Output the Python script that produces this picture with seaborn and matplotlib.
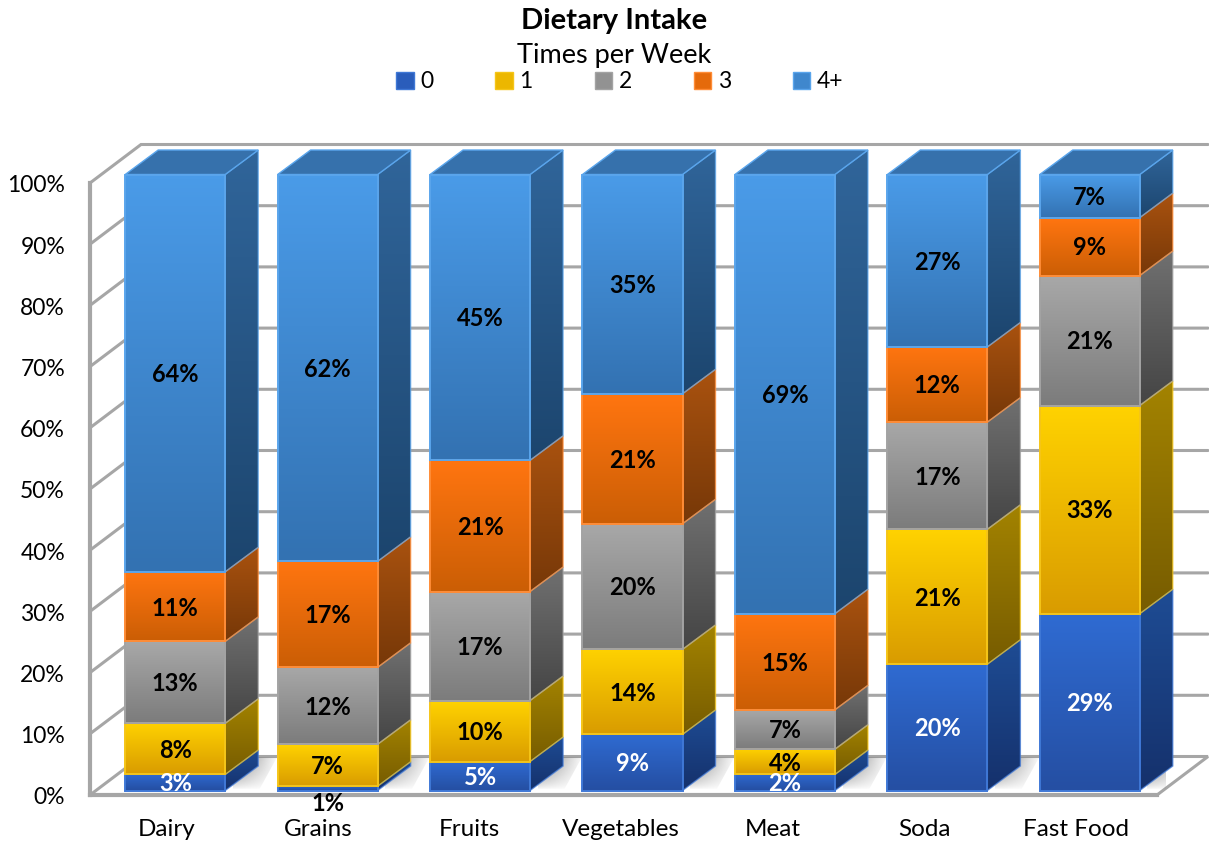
import numpy as np
import matplotlib
matplotlib.use("Agg")
import matplotlib.pyplot as plt
import seaborn as sns
from matplotlib.colors import LinearSegmentedColormap, to_rgb
from matplotlib.patches import Patch, Polygon
from matplotlib.transforms import ScaledTranslation

categories = ["Dairy", "Grains", "Fruits", "Vegetables", "Meat", "Soda", "Fast Food"]
series_names = ["0", "1", "2", "3", "4+"]

# segment heights
zero = [2.6, 0.7, 4.7, 9.1, 2.6, 20.5, 28.7]
one = [8.3, 6.8, 9.9, 13.8, 4.1, 21.9, 33.8]
two = [13.3, 12.5, 17.7, 20.4, 6.4, 17.4, 21.1]
three = [11.3, 17.2, 21.3, 21.1, 15.6, 12.2, 9.4]
four = [64.5, 62.8, 46.4, 35.6, 71.3, 28.0, 7.0]

# printed data labels
zero_lab = [3, 1, 5, 9, 2, 20, 29]
one_lab = [8, 7, 10, 14, 4, 21, 33]
two_lab = [13, 12, 17, 20, 7, 17, 21]
three_lab = [11, 17, 21, 21, 15, 12, 9]
four_lab = [64, 62, 45, 35, 69, 27, 7]

values = [zero, one, two, three, four]
labels = [zero_lab, one_lab, two_lab, three_lab, four_lab]

# front top, front bottom, side top, side bottom, edge
colors = [
    ("#2F6BD2", "#254FA3", "#1E4C94", "#15316C", "#3F78D6"),
    ("#FFD200", "#D99C00", "#A38300", "#775C00", "#F5C518"),
    ("#A8A8A8", "#7C7C7C", "#707070", "#454545", "#A3A3A3"),
    ("#FF7510", "#CB5E05", "#A9520F", "#773808", "#FF8C36"),
    ("#4A9BE8", "#3372B2", "#30659A", "#1C456E", "#5AA5EC"),
]
top_color = "#3671AC"
grid_color = "#A6A6A6"

sns.set_theme(style="white")
plt.rcParams["font.family"] = ["Lato", "DejaVu Sans"]
plt.rcParams["text.color"] = "black"

W, H = 1209, 844
fig = plt.figure(figsize=(W / 100, H / 100), dpi=100)


def box(x0, y_top, x1, y_bottom):
    return [x0 / W, 1 - y_bottom / H, (x1 - x0) / W, (y_bottom - y_top) / H]


# wall plane carries the scale, bars sit a little deeper in the box
ax = fig.add_axes(box(90, 183, 1157, 795))
bar_ax = fig.add_axes(box(99, 174.5, 1166, 790.5))
bar_ax.patch.set_alpha(0)

wall_dx, wall_dy = 51 / 152.4, 38.5 / 6.12
ax.set_xlim(-0.5, 6.5)
ax.set_ylim(0, 100)
floor = Polygon([(-0.5, 0), (-0.5 + wall_dx, wall_dy), (6.5 + wall_dx, wall_dy), (6.5, 0)],
                closed=True, facecolor="white", edgecolor=grid_color, lw=2.2,
                clip_on=False, zorder=1)
ax.add_patch(floor)
for y in range(10, 101, 10):
    ax.plot([-0.5, -0.5 + wall_dx, 6.5 + wall_dx], [y, y + wall_dy, y + wall_dy],
            color=grid_color, lw=2.2, clip_on=False, zorder=1, solid_joinstyle="miter")
# category labels run slightly tighter than the bars in the original
ax.set_xticks(np.arange(7) * 0.995, categories)
ax.set_yticks(range(0, 101, 10), [f"{y}%" for y in range(0, 101, 10)])
ax.tick_params(axis="x", length=0, pad=17.5, labelsize=17.5, colors="black")
ax.tick_params(axis="y", length=0, pad=18, labelsize=16.5, colors="black")
for t in ax.get_yticklabels():
    t.set_transform(t.get_transform() + ScaledTranslation(0, -0.6 / 72, fig.dpi_scale_trans))
sns.despine(ax=ax)
for side in ["left", "bottom"]:
    ax.spines[side].set_color(grid_color)
    ax.spines[side].set_linewidth(3)

bottom = np.zeros(len(categories))
for vals, name, c in zip(values, series_names, colors):
    sns.barplot(x=categories, y=vals, bottom=bottom, color=c[0], saturation=1,
                width=100 / 152.4, ax=bar_ax)
    bottom = bottom + np.array(vals)

bar_ax.set_xlim(-0.5, 6.5)
bar_ax.set_ylim(0, 100)
bar_ax.set_axis_off()
bar_ax.autoscale(False)

dx, dy = 33 / 152.4, 24.5 / 6.165


def shaded(verts, top, low, edge, z, lw=1.4, alpha=1):
    verts = np.array(verts)
    poly = Polygon(verts, closed=True, facecolor="none", edgecolor="none", zorder=z)
    bar_ax.add_patch(poly)
    cmap = LinearSegmentedColormap.from_list("face", [top, low])
    im = bar_ax.imshow(np.linspace(0, 1, 64)[:, None], cmap=cmap, aspect="auto", zorder=z,
                       extent=(verts[:, 0].min(), verts[:, 0].max(), verts[:, 1].min(), verts[:, 1].max()),
                       origin="upper", interpolation="bilinear")
    im.set_clip_box(fig.bbox)
    im.set_clip_path(poly)
    bar_ax.add_patch(Polygon(verts, closed=True, fill=False, edgecolor=edge, lw=lw, alpha=alpha,
                             zorder=z + 0.1, joinstyle="miter", clip_on=False))


bars = list(bar_ax.patches)

# floor shadow behind each bar
shadow = np.zeros((32, 64, 4))
shadow[..., :3] = 0.4
u = np.linspace(0, 1, 64)[None, :]
v = np.linspace(0, 1, 32)[:, None]
shadow[..., 3] = (1 - u) ** 1.2 * (1 - v) ** 0.8
for p in bars[:7]:
    x1 = p.get_x() + p.get_width()
    clip = Polygon([(x1, 0), (x1 + dx, dy), (x1 + dx, 5.4), (x1 + 0.34, 5.4), (x1 + 0.22, 0)],
                   closed=True, facecolor="none", edgecolor="none", zorder=1)
    bar_ax.add_patch(clip)
    im = bar_ax.imshow(shadow, aspect="auto", zorder=1, origin="upper",
                       extent=(x1 + 0.05, x1 + 0.36, 0, 5.4))
    im.set_clip_path(clip)

for i, (vals, labs, c) in enumerate(zip(values, labels, colors)):
    for j in range(len(categories)):
        p = bars[i * len(categories) + j]
        x0, x1 = p.get_x(), p.get_x() + p.get_width()
        y0, y1 = p.get_y(), p.get_y() + p.get_height()
        p.set_zorder(2)
        shaded([(x1, y0), (x1 + dx, y0 + dy), (x1 + dx, y1 + dy), (x1, y1)], c[2], c[3], c[4], 2, lw=1, alpha=0.7)
        shaded([(x0, y0), (x1, y0), (x1, y1), (x0, y1)], c[0], c[1], c[4], 3)
        if i == len(values) - 1:
            bar_ax.add_patch(Polygon([(x0, y1), (x1, y1), (x1 + dx, y1 + dy), (x0 + dx, y1 + dy)],
                                     closed=True, facecolor=top_color, edgecolor=c[4], lw=1,
                                     zorder=3, clip_on=False, joinstyle="miter"))
        # the 1% of Grains does not fit and hangs under the bar
        small = labs[j] == 1
        bar_ax.annotate(f"{labs[j]}%", ((x0 + x1) / 2, (y0 + y1) / 2), xytext=(0, -11 if small else -1),
                        textcoords="offset points", ha="center", va="center", fontsize=17,
                        fontweight="bold", color="white" if i == 0 and not small else "black",
                        zorder=5, annotation_clip=False)

fig.text(614 / W, 1 - 21.5 / H, "Dietary Intake", ha="center", va="center", fontsize=21, fontweight="bold")
fig.text(614 / W, 1 - 55.5 / H, "Times per Week", ha="center", va="center", fontsize=19.5)

handles = [Patch(facecolor=np.mean([to_rgb(c[0]), to_rgb(c[1])], axis=0), edgecolor=c[4], lw=1) for c in colors]
fig.legend(handles, series_names, ncol=5, frameon=False, loc="center",
           bbox_to_anchor=(620 / W, 1 - 82 / H), fontsize=16.5, handlelength=0.75,
           handleheight=0.75, handletextpad=0.3, columnspacing=2.7, borderpad=0)

fig.savefig("out.png", dpi=100)
